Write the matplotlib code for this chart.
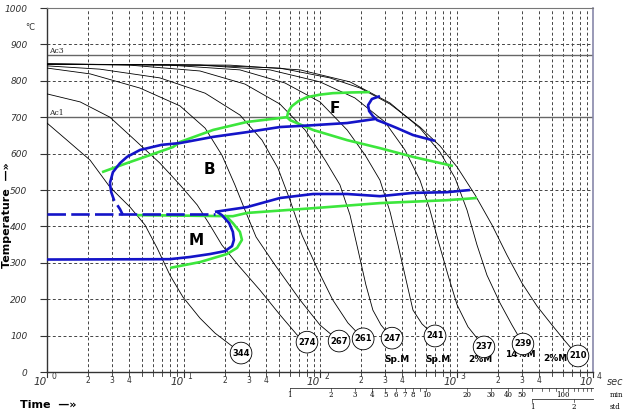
import numpy as np
import matplotlib.pyplot as plt
from matplotlib.ticker import NullLocator

# ---- cooling curves: time [s], temperature [C] ----
t_344 = [1, 1.40, 2.07, 2.89, 4.06, 5.22, 6.40, 7.96, 9.90, 13.2, 17.0, 22.7, 26.4]
T_344 = [684, 637, 582, 508, 453, 404, 341, 266, 206, 148, 107, 71, 52]

t_274 = [1, 1.75, 2.89, 4.41, 6.71, 9.43, 12.6, 15.6, 19.1, 25.1, 36.3, 50.9, 67.9, 80.3]
T_274 = [764, 742, 700, 637, 574, 514, 459, 404, 349, 294, 225, 157, 102, 82]

t_267 = [1, 2.07, 4.80, 9.43, 14.4, 19.1, 23.8, 28.2, 34.0, 46.8, 71.4, 100, 138]
T_267 = [835, 819, 780, 731, 670, 596, 514, 445, 371, 294, 198, 129, 85]

t_261 = [1, 2.44, 6.71, 14.4, 25.9, 37.6, 49.2, 60.3, 73.8, 96.7, 124, 160, 207]
T_261 = [841, 832, 808, 766, 706, 637, 560, 472, 376, 280, 198, 135, 91]

t_247 = [1, 4.06, 13.2, 28.2, 50.9, 77.7, 109, 140, 166, 190, 217, 244, 280, 337]
T_247 = [846, 843, 827, 791, 736, 665, 582, 514, 431, 335, 239, 170, 129, 93]

t_241 = [1, 7.96, 25.9, 55.4, 100, 158, 214, 275, 326, 373, 427, 480, 559, 696]
T_241 = [846, 843, 830, 794, 742, 665, 596, 527, 440, 349, 253, 170, 132, 99]

t_237 = [1, 13.2, 43.0, 100, 180, 299, 419, 540, 639, 731, 867, 1011, 1214, 1590]
T_237 = [846, 843, 830, 797, 753, 687, 610, 527, 445, 363, 266, 184, 124, 69]

t_239 = [1, 21.9, 71.4, 166, 326, 540, 757, 976, 1194, 1413, 1672, 2080, 2550, 3070]
T_239 = [846, 843, 830, 797, 739, 670, 604, 533, 445, 349, 266, 190, 129, 77]

t_210 = [1, 13.2, 50.9, 118, 197, 326, 540, 757, 1011, 1370, 1820, 2344, 3020,
         3890, 5010, 6240, 7760]
T_210 = [846, 843, 835, 808, 780, 736, 673, 621, 563, 486, 404, 321, 244,
         181, 129, 85, 44]

hardness = ["344", "274", "267", "261", "247", "241", "237", "239", "210"]
structure = ["", "", "", "", "Sp.M", "Sp.M", "2%M", "14%M", "2%M"]

# ---- transformation boundaries ----
# green
g_b_t = [2.53, 3.86, 5.69, 8.38, 9.43, 16.5, 29.2, 57.3]
g_b_T = [549, 574, 596, 618, 632, 665, 687, 700]
g_fs_t = [57.3, 58.5, 62, 70, 80.3, 100, 124, 170, 232]
g_fs_T = [700, 715, 730, 745, 755, 762, 766, 768, 769]
g_ff_t = [57.3, 60.3, 88.9, 158, 275, 480, 943]
g_ff_T = [700, 692, 665, 637, 615, 591, 566]
g_bf_t = [4.56, 23.0, 29.2, 88.9, 275, 851, 1413]
g_bf_T = [431, 428, 437, 450, 464, 472, 478]
g_m_t = [7.96, 13.2, 20.8, 24.7, 26.8, 25.9, 23.0, 20.8]
g_m_T = [286, 302, 324, 341, 363, 385, 409, 426]

# blue
b_nose_t = [2.89, 3.04, 3.43, 3.86, 4.8, 6.9, 9.43, 16.5, 29.2, 50.9, 88.9, 158, 253]
b_nose_T = [519, 549, 574, 591, 610, 624, 629, 646, 659, 673, 678, 684, 695]
b_nose_d_t = [2.89, 2.95, 3.1, 3.43, 3.6]
b_nose_d_T = [519, 495, 472, 447, 431]
b_f_t = [275, 240, 225, 229, 244, 262, 326, 367, 480, 696]
b_f_T = [758, 750, 733, 717, 703, 692, 678, 670, 651, 635]
b_ms_t = [1, 17.0]
b_ms_T = [435, 435]
b_bf_t = [17.0, 29.2, 50.9, 88.9, 158, 275, 480, 851, 1256]
b_bf_T = [440, 453, 478, 489, 489, 483, 492, 494, 500]
b_m_t = [1, 7.96, 11.2, 15.6, 20.1, 22.7, 23.4, 23.0, 21.6, 19.1, 17.6]
b_m_T = [309, 310, 316, 324, 332, 346, 363, 385, 409, 431, 440]

ac3 = 871
ac1 = 700

curves = [(t_344, T_344), (t_274, T_274), (t_267, T_267), (t_261, T_261),
          (t_247, T_247), (t_241, T_241), (t_237, T_237), (t_239, T_239),
          (t_210, T_210)]
sub_pos = [None, None, None, None, (367, 33), (731, 33), (1486, 33),
           (2920, 47), (5300, 38)]

GREEN = "#3ce63c"
BLUE = "#1414c8"

W, H = 627, 416
fig = plt.figure(figsize=(W / 100, H / 100), dpi=100)
ax = fig.add_axes([47 / W, 1 - 372 / H, (593 - 47) / W, (372 - 8) / H])
ax.set_xscale("log")
ax.set_xlim(1, 1e4)
ax.set_ylim(0, 1000)

for s in ["left", "bottom"]:
    ax.spines[s].set_color("#333333")
    ax.spines[s].set_linewidth(1.0)
ax.spines["top"].set_color("#777777")
ax.spines["right"].set_color("#8888aa")
ax.spines["right"].set_linewidth(1.2)

# grid
dash = (0, (3, 2.5))
for dec in range(4):
    for k in range(1, 10):
        x = k * 10 ** dec
        if x > 1:
            ax.axvline(x, color="#444444", lw=0.7, ls=dash, zorder=1)
for yv in range(100, 1000, 100):
    ax.axhline(yv, color="#444444", lw=0.7, ls=dash, zorder=1)

ax.axhline(ac3, color="#666666", lw=1.0, zorder=2)
ax.axhline(ac1, color="#666666", lw=1.0, zorder=2)
ax.text(1.03, ac3 + 6, "Ac3", fontsize=5.5, family="DejaVu Serif", color="#222222")
ax.text(1.03, ac1 + 6, "Ac1", fontsize=5.5, family="DejaVu Serif", color="#222222")

# cooling curves with hardness circles at their ends
for (t, T), hv, sub, spos in zip(curves, hardness, structure, sub_pos):
    ax.plot(t, T, color="black", lw=0.6, zorder=3)
    ax.text(t[-1], T[-1], hv, fontsize=6, fontweight="bold", ha="center",
            va="center", zorder=6,
            bbox=dict(boxstyle="circle,pad=0.25", fc="white", ec="black", lw=0.6))
    if sub:
        ax.text(spos[0], spos[1], sub, fontsize=6.5, fontweight="bold",
                ha="center", va="center", zorder=5)

# phase lines
lw = 1.9
for t, T in [(g_b_t, g_b_T), (g_fs_t, g_fs_T), (g_ff_t, g_ff_T),
             (g_bf_t, g_bf_T), (g_m_t, g_m_T)]:
    ax.plot(t, T, color=GREEN, lw=lw, zorder=4, solid_capstyle="butt")
for t, T in [(b_nose_t, b_nose_T), (b_f_t, b_f_T), (b_bf_t, b_bf_T),
             (b_m_t, b_m_T)]:
    ax.plot(t, T, color=BLUE, lw=lw, zorder=5, solid_capstyle="butt")
for t, T in [(b_nose_d_t, b_nose_d_T), (b_ms_t, b_ms_T)]:
    ax.plot(t, T, color=BLUE, lw=lw, zorder=5, ls=(0, (7, 2)))

ax.text(15.6, 555, "B", fontsize=11, fontweight="bold", ha="center", va="center")
ax.text(12.4, 360, "M", fontsize=11, fontweight="bold", ha="center", va="center")
ax.text(129, 725, "F", fontsize=11, fontweight="bold", ha="center", va="center")

# ticks and labels
ax.xaxis.set_major_locator(NullLocator())
ax.xaxis.set_minor_locator(NullLocator())
ax.set_yticks(range(0, 1001, 100))
ax.set_yticklabels([str(v) for v in range(0, 1001, 100)], fontsize=6.5,
                   style="italic", color="#333333")
ax.tick_params(axis="y", length=5, width=0.8, pad=9, color="#333333")

xt = ax.get_xaxis_transform()
tick_len = 5 / 364
for dec in range(5):
    x = 10 ** dec
    ax.plot([x, x], [0, -tick_len], color="#333333", lw=0.8, transform=xt, clip_on=False)
    ax.text(x, -0.028, "10", fontsize=7.5, style="italic", color="#333333",
            ha="right", va="center", transform=xt)
    ax.text(x * 1.07, -0.013, str(dec), fontsize=5.5, color="#333333",
            ha="left", va="center", transform=xt)
    if dec < 4:
        for k in range(2, 10):
            xm = k * x
            ax.plot([xm, xm], [0, -tick_len * 0.7], color="#333333", lw=0.6,
                    transform=xt, clip_on=False)
            if k <= 4:
                ax.text(xm, -0.022, str(k), fontsize=5.5, color="#333333",
                        ha="center", va="center", transform=xt)
ax.text(1.026, -0.028, "sec", fontsize=7, style="italic", color="#333333",
        ha="left", va="center", transform=ax.transAxes)

# minutes scale
y_min = -(388 - 372) / 364
ax.plot([60, 1e4], [y_min, y_min], color="#333333", lw=0.6, transform=xt, clip_on=False)
min_ticks = list(range(1, 10)) + list(range(10, 100, 10)) + [100, 110, 120, 130, 140, 150, 160]
min_labels = [1, 2, 3, 4, 5, 6, 7, 8, 10, 20, 30, 40, 50, 100]
for m in min_ticks:
    ax.plot([m * 60, m * 60], [y_min, y_min - 3 / 364], color="#333333", lw=0.5,
            transform=xt, clip_on=False)
for m in min_labels:
    ax.text(m * 60, y_min - 7 / 364, str(m), fontsize=5, family="DejaVu Serif",
            ha="center", va="center", transform=xt)
ax.text(1.03, y_min - 7 / 364, "min", fontsize=5, family="DejaVu Serif",
        ha="left", va="center", transform=ax.transAxes)

# hours scale
y_h = -(399 - 372) / 364
ax.plot([3600, 1e4], [y_h, y_h], color="#333333", lw=0.6, transform=xt, clip_on=False)
for hr in [1, 2]:
    ax.plot([hr * 3600, hr * 3600], [y_h, y_h - 3 / 364], color="#333333", lw=0.5,
            transform=xt, clip_on=False)
    ax.text(hr * 3600, y_h - 8 / 364, str(hr), fontsize=5, family="DejaVu Serif",
            ha="center", va="center", transform=xt)
ax.text(1.03, y_h - 8 / 364, "std", fontsize=5, family="DejaVu Serif",
        ha="left", va="center", transform=ax.transAxes)

fig.text(30 / W, 1 - 28 / H, "°C", fontsize=6, color="#333333", ha="center", va="center")
fig.text(7 / W, 1 - 215 / H, "Temperature  —»", fontsize=8, fontweight="bold",
         rotation=90, ha="center", va="center")
fig.text(20 / W, 1 - 405 / H, "Time  —»", fontsize=8, fontweight="bold",
         ha="left", va="center")

fig.savefig("out.png", dpi=100)
